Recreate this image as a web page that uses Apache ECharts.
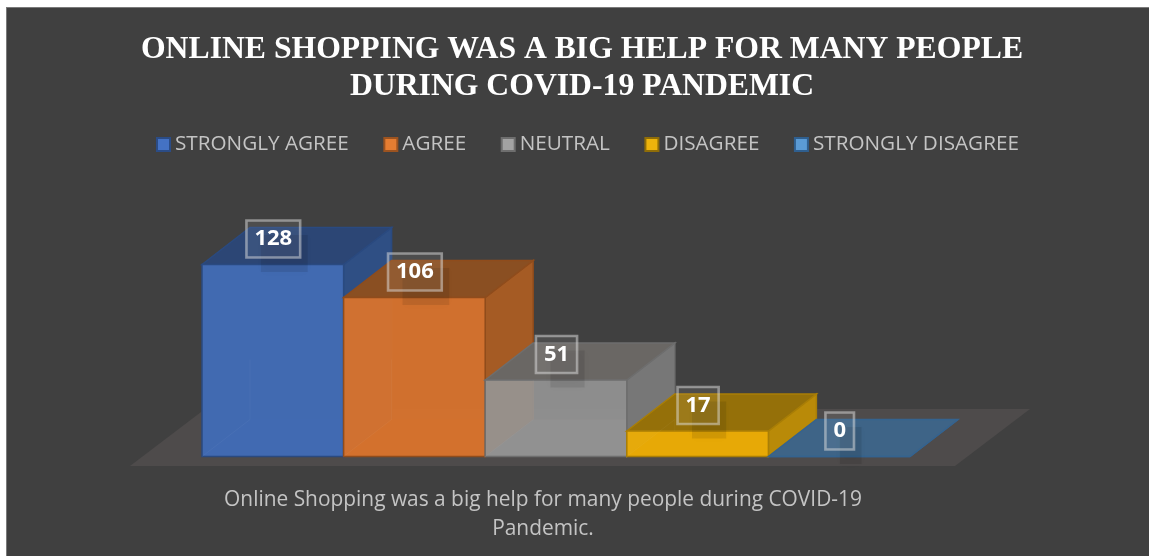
<!DOCTYPE html>
<html>
<head>
<meta charset="utf-8">
<title>Online shopping survey</title>
<style>
  html, body { margin: 0; padding: 0; background: #fff; width: 1149px; height: 556px; overflow: hidden; }
  #panel { position: absolute; left: 6px; top: 7px; right: 0; bottom: 0; background: #404040; border-left: 1px solid #7a7a7a; border-top: 1px solid #7a7a7a; }
  #chart { position: absolute; left: 0; top: 0; width: 1149px; height: 556px; }
</style>
<script src="https://cdn.jsdelivr.net/npm/echarts@6/dist/echarts.min.js"></script>
</head>
<body>
<div id="panel"></div>
<div id="chart"></div>
<script>
const titleLines = ['ONLINE SHOPPING WAS A BIG HELP FOR MANY PEOPLE', 'DURING COVID-19 PANDEMIC'];
const captionLines = ['Online Shopping was a big help for many people during COVID-19', 'Pandemic.'];
const categories = ['STRONGLY AGREE', 'AGREE', 'NEUTRAL', 'DISAGREE', 'STRONGLY DISAGREE'];
const responses = [128, 106, 51, 17, 0];

// Shades for each box: front, top, right side, outline, legend swatch and its border
const shades = [
  { front: 'rgba(65,107,180,0.98)',  top: '#2c4675', side: '#2f4f84', line: '#2a4a80', swatch: '#4472c4', edge: '#2b4c86' },
  { front: 'rgba(214,114,46,0.96)',  top: '#8a4f22', side: '#a55b24', line: '#8f4c1c', swatch: '#e57d32', edge: '#9c5320' },
  { front: 'rgba(150,150,150,0.90)', top: '#6a6764', side: '#777777', line: '#6e6e6e', swatch: '#a3a3a3', edge: '#6e6e6e' },
  { front: 'rgba(234,172,6,0.96)',   top: '#957009', side: '#b98a08', line: '#a97e06', swatch: '#edb40c', edge: '#8f6d08' },
  { front: 'rgba(60,102,140,0.96)',  top: '#3e6487', side: '#3e6487', line: '#35638f', swatch: '#5b9bd5', edge: '#2f5f8f' }
];

// Oblique projection used for the box depth, in pixels
const DEPTH_X = 48;
const DEPTH_Y = -37;

function poly(points, fill, stroke) {
  return {
    type: 'polygon',
    shape: { points },
    style: { fill, stroke, lineWidth: stroke ? 1.5 : 0 }
  };
}

function renderBox(index, params, api) {
  const c = api.value(0);
  const v = api.value(1);
  const top = api.coord([c, v]);
  const base = api.coord([c, 0]);
  const w = api.size([1, 0])[0];
  const s = shades[index];
  const l = base[0] - w / 2, r = base[0] + w / 2;
  const t = top[1], b = base[1];
  const dx = DEPTH_X, dy = DEPTH_Y;

  const children = [
    poly([[l + dx, b + dy], [r + dx, b + dy], [r, b], [l, b]], s.top, null),
    poly([[r, t], [r + dx, t + dy], [r + dx, b + dy], [r, b]], s.side, s.line),
    poly([[l, t], [l + dx, t + dy], [r + dx, t + dy], [r, t]], s.top, s.line),
    poly([[l, t], [r, t], [r, b], [l, b]], s.front, s.line)
  ];

  // Faint back edges seen through the front face
  if (v > 0) {
    children.push({
      type: 'polyline',
      shape: { points: [[l, b], [l + dx, b + dy], [l + dx, Math.max(t, b + dy - 60)]] },
      style: { fill: null, stroke: 'rgba(255,255,255,0.035)', lineWidth: 1 }
    });
  }

  // Value tag with its soft drop shadow
  const cy = t - 25.5;
  const halfW = String(v).length * 6.3 + 8;
  children.push({
    type: 'rect',
    shape: { x: base[0] - halfW + 15, y: cy - 4, width: 2 * halfW - 7, height: 37 },
    style: { fill: 'rgba(0,0,0,0.09)', shadowBlur: 9, shadowColor: 'rgba(0,0,0,0.22)' }
  });
  children.push({
    type: 'text',
    style: {
      text: String(v),
      x: base[0] + 0.5,
      y: cy,
      align: 'center',
      verticalAlign: 'middle',
      fill: '#ffffff',
      font: 'bold 22px "Open Sans"',
      backgroundColor: 'rgba(255,255,255,0.07)',
      borderColor: 'rgba(222,222,222,0.5)',
      borderWidth: 1.3,
      padding: [9, 8, 6, 8]
    }
  });
  return { type: 'group', children };
}

function renderFloor(params, api) {
  const first = api.coord([0, 0]);
  const last = api.coord([categories.length - 1, 0]);
  const w = api.size([1, 0])[0];
  const y = first[1] + 9.5;
  const x0 = first[0] - w / 2 - 72;
  const x1 = last[0] + w / 2 + 45;
  return {
    type: 'polygon',
    shape: { points: [[x0, y], [x1, y], [x1 + 75, y - 57], [x0 + 75, y - 57]] },
    style: { fill: '#4e4b4b' }
  };
}

const boxSeries = categories.map((name, i) => ({
  name,
  type: 'custom',
  renderItem: (params, api) => renderBox(i, params, api),
  encode: { x: 0, y: 1 },
  itemStyle: { color: shades[i].front, borderColor: shades[i].line, borderWidth: 1.5 },
  data: [[i, responses[i]]],
  silent: true
}));

const chart = echarts.init(document.getElementById('chart'), null, { renderer: 'canvas' });
chart.setOption({
  animation: false,
  backgroundColor: 'transparent',
  title: [
    {
      text: titleLines.join('\n'),
      left: 577,
      top: 26,
      textAlign: 'center',
      textStyle: { color: '#ffffff', fontFamily: '"Liberation Serif"', fontWeight: 'bold', fontSize: 31.7, lineHeight: 37 }
    },
    {
      text: captionLines.join('\n'),
      left: 538,
      top: 481,
      textAlign: 'center',
      textStyle: { color: '#c4c4c4', fontFamily: '"Open Sans"', fontWeight: 'normal', fontSize: 20.9, lineHeight: 29 }
    }
  ],
  legend: {
    data: categories.map((name, i) => ({
      name,
      itemStyle: { color: shades[i].swatch, borderColor: shades[i].edge, borderWidth: 2 }
    })),
    left: 156,
    top: 134,
    padding: 0,
    icon: 'rect',
    itemWidth: 13,
    itemHeight: 13,
    itemGap: 34.5,
    selectedMode: false,
    textStyle: { color: '#c4c4c4', fontFamily: '"Open Sans"', fontSize: 20.7 }
  },
  grid: { left: 202, right: 239, top: 156.5, bottom: 99.5 },
  xAxis: { type: 'category', data: categories, show: false },
  yAxis: { type: 'value', min: 0, max: 200, show: false },
  series: [
    {
      name: 'floor',
      type: 'custom',
      renderItem: renderFloor,
      data: [[0, 0]],
      encode: { x: 0, y: 1 },
      silent: true
    }
  ].concat(boxSeries)
});
</script>
</body>
</html>
